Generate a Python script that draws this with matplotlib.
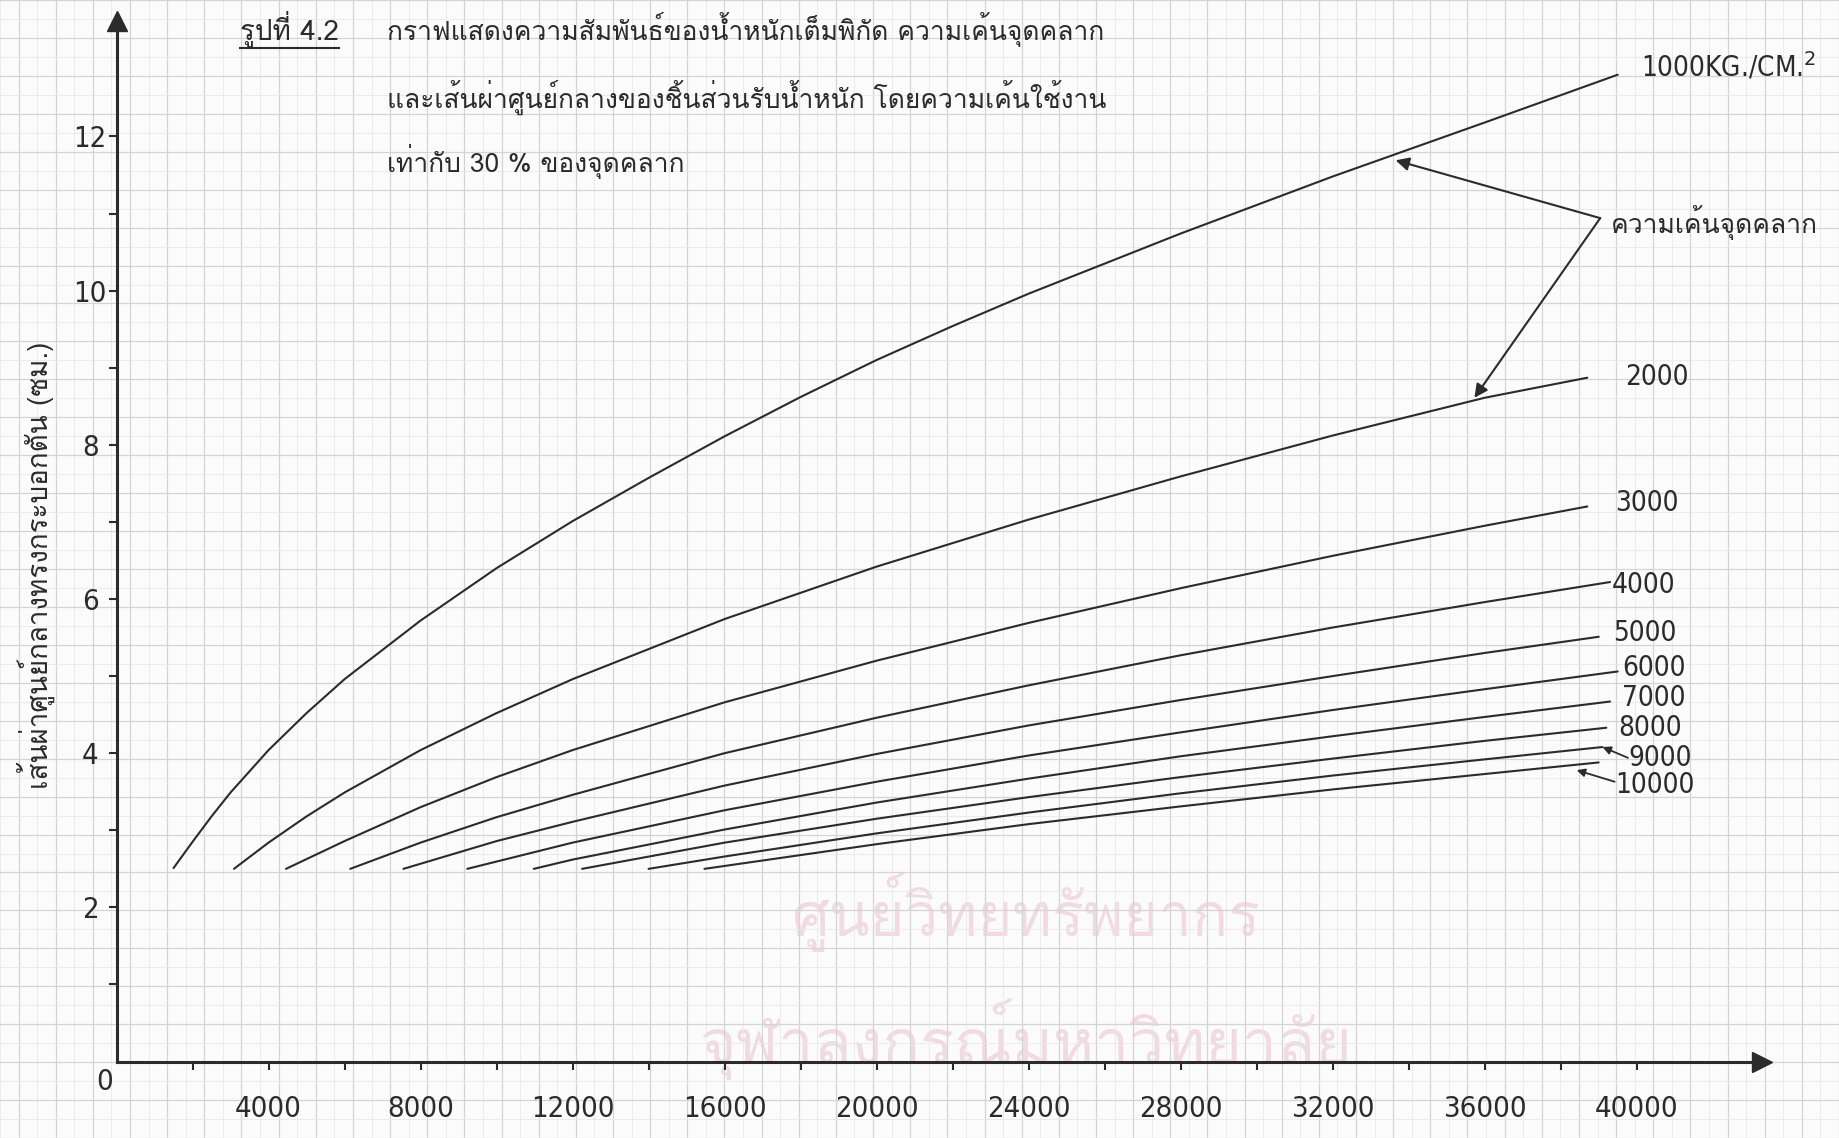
import matplotlib
matplotlib.use("Agg")
import matplotlib.pyplot as plt
from matplotlib import font_manager
from matplotlib.font_manager import FontProperties
from matplotlib.ft2font import FT2Font
from matplotlib.lines import Line2D
import numpy as np

# ---------------- data ----------------
stress_names = ["1000KG./CM.$^{2}$", "2000", "3000", "4000", "5000",
                "6000", "7000", "8000", "9000", "10000"]

load_1000 = [1500, 2000, 2500, 3000, 4000, 5000, 6000, 8000, 10000, 12000, 14000,
             16000, 18000, 20000, 22000, 24000, 28000, 32000, 36000, 39500]
dia_1000 = [2.51, 2.85, 3.18, 3.49, 4.04, 4.52, 4.96, 5.72, 6.40, 7.01, 7.57,
            8.11, 8.62, 9.10, 9.54, 9.96, 10.74, 11.48, 12.18, 12.80]

load_2000 = [3090, 4000, 5000, 6000, 8000, 10000, 12000, 16000, 20000, 24000,
             28000, 32000, 36000, 38700]
dia_2000 = [2.50, 2.84, 3.18, 3.49, 4.04, 4.52, 4.96, 5.74, 6.42, 7.03,
            7.59, 8.12, 8.61, 8.87]

load_3000 = [4460, 6000, 8000, 10000, 12000, 16000, 20000, 24000, 28000, 32000,
             36000, 38700]
dia_3000 = [2.50, 2.86, 3.30, 3.69, 4.04, 4.66, 5.20, 5.69, 6.14, 6.56,
            6.95, 7.20]

load_4000 = [6150, 8000, 10000, 12000, 16000, 20000, 24000, 28000, 32000, 36000, 39300]
dia_4000 = [2.50, 2.84, 3.17, 3.46, 4.00, 4.46, 4.88, 5.27, 5.63, 5.96, 6.22]

load_5000 = [7550, 10000, 12000, 16000, 20000, 24000, 28000, 32000, 36000, 39000]
dia_5000 = [2.50, 2.86, 3.11, 3.58, 3.99, 4.36, 4.69, 5.00, 5.30, 5.51]

load_6000 = [9230, 12000, 16000, 20000, 24000, 28000, 32000, 36000, 39500]
dia_6000 = [2.50, 2.84, 3.26, 3.63, 3.97, 4.27, 4.56, 4.83, 5.06]

load_7000 = [10980, 12000, 16000, 20000, 24000, 28000, 32000, 36000, 39300]
dia_7000 = [2.50, 2.62, 3.01, 3.36, 3.67, 3.96, 4.22, 4.47, 4.67]

load_8000 = [12250, 16000, 20000, 24000, 28000, 32000, 36000, 39200]
dia_8000 = [2.50, 2.84, 3.15, 3.43, 3.69, 3.93, 4.16, 4.33]

load_9000 = [14000, 16000, 20000, 24000, 28000, 32000, 36000, 39100]
dia_9000 = [2.50, 2.66, 2.96, 3.23, 3.48, 3.71, 3.92, 4.08]

load_10000 = [15470, 20000, 24000, 28000, 32000, 36000, 39000]
dia_10000 = [2.50, 2.82, 3.08, 3.31, 3.53, 3.73, 3.88]

x_tick_values = [4000, 8000, 12000, 16000, 20000, 24000, 28000, 32000, 36000, 40000]
x_tick_labels = ["4000", "8000", "12000", "16000", "20000", "24000", "28000",
                 "32000", "36000", "40000"]
y_tick_values = [2, 4, 6, 8, 10, 12]
y_tick_labels = ["2", "4", "6", "8", "10", "12"]

title_tag = "รูปที่ 4.2"
title_lines = ["กราฟแสดงความสัมพันธ์ของน้ำหนักเต็มพิกัด ความเค้นจุดคลาก",
               "และเส้นผ่าศูนย์กลางของชิ้นส่วนรับน้ำหนัก โดยความเค้นใช้งาน",
               "เท่ากับ 30 % ของจุดคลาก"]
y_title = "เส้นผ่าศูนย์กลางทรงกระบอกตัน (ซม.)"
yield_note = "ความเค้นจุดคลาก"
watermark_lines = ["ศูนย์วิทยทรัพยากร", "จุฬาลงกรณ์มหาวิทยาลัย"]

loads = [load_1000, load_2000, load_3000, load_4000, load_5000,
         load_6000, load_7000, load_8000, load_9000, load_10000]
dias = [dia_1000, dia_2000, dia_3000, dia_4000, dia_5000,
        dia_6000, dia_7000, dia_8000, dia_9000, dia_10000]

# ---------------- fonts ----------------
def find_family_with(char):
    code = ord(char)
    seen = set()
    fallback = None
    for f in font_manager.fontManager.ttflist:
        if f.fname in seen:
            continue
        seen.add(f.fname)
        try:
            cmap = FT2Font(f.fname).get_charmap()
        except Exception:
            continue
        if code in cmap:
            if f.style == "normal" and f.weight in (400, "normal", "regular", "book"):
                return f.name
            if fallback is None:
                fallback = f.name
    return fallback

def find_file(keys):
    for key in keys:
        for f in font_manager.fontManager.ttflist:
            if key.lower() in f.fname.lower():
                return f.fname
    return None

thai_family = find_family_with("ก")
thai_fams = ([thai_family] if thai_family else []) + ["DejaVu Sans"]
narrow_file = find_file(["LiberationSansNarrow-Regular", "DejaVuSansCondensed.ttf"])

def num_fp(size):
    if narrow_file:
        return FontProperties(fname=narrow_file, size=size)
    return FontProperties(family="DejaVu Sans", size=size)

INK = "#2b2b2b"

# ---------------- geometry (pixels of the reference) ----------------
W, H = 1839, 1138
X0, Y0 = 116.5, 1061.6          # pixel of the origin (from top-left)
PX_X, PX_Y = 0.038005, 77.1     # pixels per kg, pixels per cm
X_END, Y_END = 43300, 13.5

fig = plt.figure(figsize=(W / 100, H / 100), dpi=100)
fig.patch.set_facecolor("#fbfbfb")

# graph paper background
bg = fig.add_axes([0, 0, 1, 1], zorder=0)
bg.set_xlim(-X0 / PX_X, (W - X0) / PX_X)
bg.set_ylim(-(H - Y0) / PX_Y, Y0 / PX_Y)
bg.set_facecolor("#fbfbfb")
bg.set_xticks(np.arange(-3000, 46001, 1000))
bg.set_xticks(np.arange(-3500, 46001, 1000), minor=True)
bg.set_yticks(np.arange(-1, 14.01, 0.5))
bg.set_yticks(np.arange(-0.75, 14.01, 0.5), minor=True)
bg.grid(which="major", color="#d4d4d4", lw=0.9)
bg.grid(which="minor", color="#e8e8e8", lw=0.6)
bg.tick_params(which="both", length=0, labelbottom=False, labelleft=False)
for s in bg.spines.values():
    s.set_visible(False)

# watermark
for txt, (wx, wy, fs) in zip(watermark_lines, [(24100, 1.98, 43), (24100, 0.30, 45)]):
    bg.text(wx, wy, txt, ha="center", va="center", fontsize=fs,
            family=thai_fams, color="#f1dbe3", zorder=0.5)

# main axes
ax = fig.add_axes([X0 / W, (H - Y0) / H, X_END * PX_X / W, Y_END * PX_Y / H], zorder=1)
ax.patch.set_alpha(0)
ax.set_xlim(0, X_END)
ax.set_ylim(0, Y_END)
for side in ("top", "right"):
    ax.spines[side].set_visible(False)
for side in ("left", "bottom"):
    ax.spines[side].set_linewidth(2.2)
    ax.spines[side].set_color(INK)
ax.plot(1, 0, marker=">", ms=15, color=INK, transform=ax.get_yaxis_transform(), clip_on=False)
ax.plot(0, 1, marker="^", ms=15, color=INK, transform=ax.get_xaxis_transform(), clip_on=False)

ax.set_xticks(x_tick_values)
ax.set_xticklabels(x_tick_labels)
ax.set_xticks(np.arange(2000, 38001, 4000), minor=True)
ax.set_yticks(y_tick_values)
ax.set_yticklabels(y_tick_labels)
ax.set_yticks(np.arange(1, 12.5, 2), minor=True)
ax.tick_params(axis="x", which="both", direction="out", length=6, width=1.5, color=INK, pad=18)
ax.tick_params(axis="y", which="both", direction="out", length=6, width=1.5, color=INK, pad=13)
for lbl in ax.get_xticklabels():
    lbl.set_fontproperties(num_fp(21))
    lbl.set_color(INK)
for lbl in ax.get_yticklabels():
    lbl.set_fontproperties(num_fp(21))
    lbl.set_color(INK)
    lbl.set_horizontalalignment("center")
ax.text(-300, -0.27, "0", ha="center", va="center", fontproperties=num_fp(21), color=INK)

# curves
for xs, ys in zip(loads, dias):
    ax.plot(xs, ys, color=INK, lw=1.5, solid_capstyle="round", solid_joinstyle="round")

# curve labels
label_x = [40100, 39700, 39430, 39350, 39380, 39620, 39620, 39510, 39770, 39430]
label_y = [12.90, 8.88, 7.25, 6.18, 5.56, 5.10, 4.72, 4.33, 3.94, 3.59]
for name, lx, ly in zip(stress_names, label_x, label_y):
    ax.text(lx, ly, name, ha="left", va="center", fontproperties=num_fp(20), color=INK)

# leaders for 9000 and 10000
ax.annotate("", xy=(load_9000[-1], dia_9000[-1]), xytext=(39770, 3.94),
            arrowprops=dict(arrowstyle="-|>", color=INK, lw=1.3, mutation_scale=12,
                            shrinkA=0, shrinkB=0))
ax.annotate("", xy=(38420, 3.78), xytext=(39420, 3.63),
            arrowprops=dict(arrowstyle="-|>", color=INK, lw=1.3, mutation_scale=12,
                            shrinkA=0, shrinkB=0))

# yield stress note with two arrows
junction = (39040, 10.94)
ax.text(39330, 10.88, yield_note, ha="left", va="center", fontsize=19,
        family=thai_fams, color=INK)
for tip in [(33656, 11.69), (35730, 8.61)]:
    ax.annotate("", xy=tip, xytext=junction,
                arrowprops=dict(arrowstyle="-|>", color=INK, lw=1.5, mutation_scale=20,
                                shrinkA=0, shrinkB=0))

# title block
tag = ax.text(3250, 13.39, title_tag, ha="left", va="center", fontsize=20,
              family=thai_fams, color=INK)
for line, ty in zip(title_lines, [13.39, 12.51, 11.68]):
    ax.text(7130, ty, line, ha="left", va="center", fontsize=19,
            family=thai_fams, color=INK)

# y title
ax.text(-2120, 6.44, y_title, ha="center", va="center", rotation=90, fontsize=20,
        family=thai_fams, color=INK)

# underline the figure tag
fig.canvas.draw()
bb = tag.get_window_extent(fig.canvas.get_renderer())
fig.add_artist(Line2D([bb.x0, bb.x1], [bb.y0 - 1, bb.y0 - 1], transform=None,
                      color=INK, lw=1.5))

fig.savefig("out.png", dpi=100, facecolor=fig.get_facecolor())
